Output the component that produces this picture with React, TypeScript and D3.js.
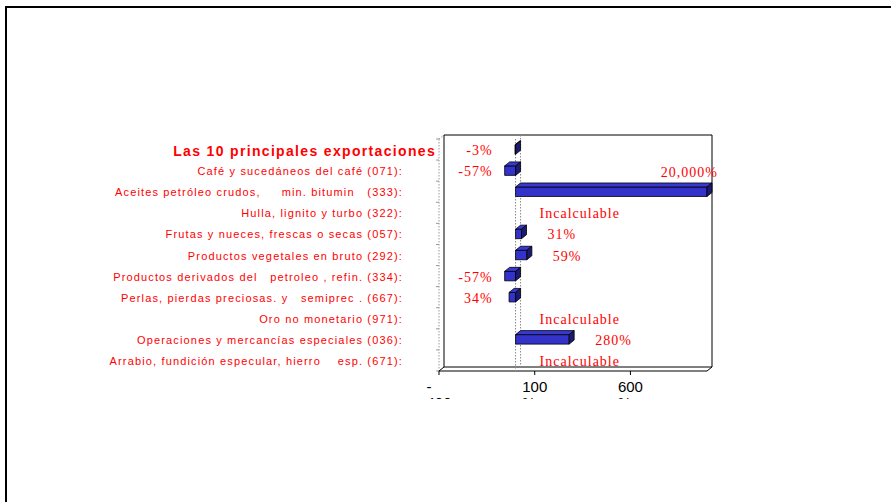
import React from 'react';
import * as d3 from 'd3';

// row 0 is the total, the rest are the 10 products
const categories = [
  'Las 10 principales exportaciones',
  'Café y sucedáneos del café (071):',
  'Aceites petróleo crudos,     min. bitumin   (333):',
  'Hulla, lignito y turbo (322):',
  'Frutas y nueces, frescas o secas (057):',
  'Productos vegetales en bruto (292):',
  'Productos derivados del   petroleo , refin. (334):',
  'Perlas, pierdas preciosas. y   semiprec . (667):',
  'Oro no monetario (971):',
  'Operaciones y mercancías especiales (036):',
  'Arrabio, fundición especular, hierro    esp. (671):',
];

// % change, null = "Incalculable"
const values: (number | null)[] = [-3, -57, 20000, null, 31, 59, -57, -34, null, 280, null];
const valueLabels = [
  '-3%', '-57%', '20,000%', 'Incalculable', '31%', '59%', '-57%', '34%', 'Incalculable', '280%', 'Incalculable',
];

const xDomain = [-400, 1000];
const xTicks = [-400, 100, 600];

const W = 891;
const H = 502;
const DX = 5; // 3d depth offset
const DY = -4;

const RED = '#ff0000';
const SANS = '"Liberation Sans", Arial, sans-serif';
const SERIF = '"Liberation Serif", "Times New Roman", serif';

const App: React.FC = () => {
  const x = d3.scaleLinear().domain(xDomain).range([439, 707]);
  const y = d3
    .scaleBand<number>()
    .domain(d3.range(categories.length))
    .range([139, 371])
    .paddingInner(0.55)
    .paddingOuter(0.275);

  const [x0, x1] = x.range();
  const [yTop, yBot] = y.range();
  const xz = x(0);
  const bw = y.bandwidth();
  const step = y.step();
  const clampX = (v: number) => x(Math.max(xDomain[0], Math.min(xDomain[1], v)));
  const pts = (p: [number, number][]) => p.map((d) => d.join(',')).join(' ');

  return (
    <svg width={W} height={H} style={{ position: 'absolute', left: 0, top: 0, background: '#fff' }}>
      <defs>
        <clipPath id="tickclip">
          <rect x={0} y={0} width={W} height={399} />
        </clipPath>
      </defs>

      {/* outer frame */}
      <rect x={6} y={7} width={1000} height={1000} fill="none" stroke="#000" strokeWidth={2} />

      {/* walls and floor */}
      <g fill="none">
        <line x1={x0} y1={yTop} x2={x0} y2={yBot} stroke="#999" strokeDasharray="1.5,1.5" />
        <line x1={x0} y1={yTop} x2={x0 + DX} y2={yTop + DY} stroke="#999" strokeDasharray="1.5,1.5" />
        <line x1={x0 + DX} y1={yTop + DY} x2={x0 + DX} y2={yBot + DY} stroke="#000" />
        <line x1={x0 + DX} y1={yTop + DY} x2={x1 + DX} y2={yTop + DY} stroke="#000" />
        <line x1={x1 + DX} y1={yTop + DY} x2={x1 + DX} y2={yBot + DY} stroke="#000" />
        <line x1={x0 + DX} y1={yBot + DY} x2={x1 + DX} y2={yBot + DY} stroke="#000" />
        <line x1={x0} y1={yBot} x2={x1} y2={yBot} stroke="#000" />
        <line x1={x0} y1={yBot} x2={x0 + DX} y2={yBot + DY} stroke="#000" />
        <line x1={x1} y1={yBot} x2={x1 + DX} y2={yBot + DY} stroke="#000" />
        {d3.range(categories.length + 1).map((k) => (
          <line key={k} x1={x0 - 3} y1={yTop + step * k} x2={x0} y2={yTop + step * k} stroke="#999" />
        ))}
        {/* zero line, front and back */}
        <line x1={xz} y1={yTop} x2={xz} y2={yBot} stroke="#888" strokeDasharray="1.5,1.5" />
        <line x1={xz + DX} y1={yTop + DY} x2={xz + DX} y2={yBot + DY} stroke="#888" strokeDasharray="1.5,1.5" />
        {xTicks.map((t) => (
          <line key={t} x1={x(t)} y1={yBot} x2={x(t)} y2={yBot + 4} stroke="#000" />
        ))}
      </g>

      {/* bars */}
      {values.map((v, i) => {
        if (v === null) return null;
        const a = Math.min(clampX(v), xz);
        const b = Math.max(clampX(v), xz);
        const t = y(i)!;
        const bt = t + bw;
        return (
          <g key={i} stroke="#000" strokeWidth={0.8} strokeLinejoin="round">
            <rect x={a} y={t} width={b - a} height={bw} fill="#3333cc" />
            <polygon points={pts([[a, t], [a + DX, t + DY], [b + DX, t + DY], [b, t]])} fill="#3838d4" />
            <polygon points={pts([[b, t], [b + DX, t + DY], [b + DX, bt + DY], [b, bt]])} fill="#1a1a70" />
          </g>
        );
      })}

      {/* data labels */}
      <g fontFamily={SERIF} fontSize={14} fill={RED} letterSpacing={1}>
        {valueLabels.map((lab, i) => {
          const v = values[i];
          const cy = y(i)! + bw / 2 + 5.5;
          if (v === null) {
            return <text key={i} x={xz + 24} y={cy}>{lab}</text>;
          }
          if (v > xDomain[1]) {
            return <text key={i} x={x1 + 11} y={cy - 20} textAnchor="end">{lab}</text>;
          }
          if (v < 0) {
            return <text key={i} x={xz - 23} y={cy} textAnchor="end">{lab}</text>;
          }
          return <text key={i} x={x(v) + 26} y={cy}>{lab}</text>;
        })}
      </g>

      {/* category labels */}
      <g fontFamily={SANS} fill={RED}>
        {categories.map((c, i) => {
          const cy = y(i)! + bw / 2;
          return i === 0 ? (
            <text key={i} x={436} y={cy + 6.5} textAnchor="end" fontSize={14} fontWeight="bold" letterSpacing={1.33} xmlSpace="preserve">
              {c}
            </text>
          ) : (
            <text key={i} x={403} y={cy + 4.5} textAnchor="end" fontSize={11} letterSpacing={1.15} xmlSpace="preserve">
              {c}
            </text>
          );
        })}
      </g>

      {/* value axis labels, wrapped and cut off like the original */}
      <g clipPath="url(#tickclip)" fontFamily={SANS} fontSize={15} fill="#000">
        {xTicks.map((t) => {
          const lines = t < 0 ? ['-', String(-t), '%'] : [String(t), '%'];
          const left = x(t) - 12.5;
          return (
            <text key={t} x={left} y={392}>
              {lines.map((l, k) => (
                <tspan key={k} x={left} dy={k === 0 ? 0 : 16}>
                  {l}
                </tspan>
              ))}
            </text>
          );
        })}
      </g>
    </svg>
  );
};

export default App;
